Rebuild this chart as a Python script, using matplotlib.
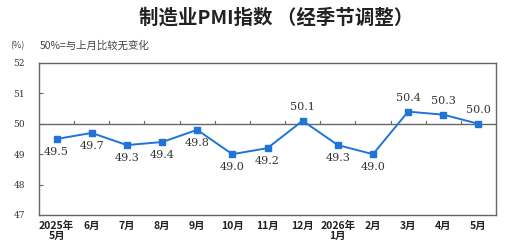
import matplotlib
matplotlib.use("Agg")
import matplotlib.pyplot as plt
import numpy as np

plt.rcParams['font.family'] = ['Noto Sans CJK SC', 'DejaVu Sans']

months = ["2025年\n5月", "6月", "7月", "8月", "9月", "10月", "11月", "12月",
          "2026年\n1月", "2月", "3月", "4月", "5月"]
pmi = [49.5, 49.7, 49.3, 49.4, 49.8, 49.0, 49.2, 50.1, 49.3, 49.0, 50.4, 50.3, 50.0]
label_above = [False, False, False, False, False, False, False, True, False, False, True, True, True]
yticks = [47, 48, 49, 50, 51, 52]

fig = plt.figure(figsize=(5.21, 2.48), dpi=100)
ax = fig.add_axes([39/521, 1-215/248, (496-39)/521, (215-63)/248])

x = np.arange(len(pmi))
blue = "#1f74d6"
ax.plot(x, pmi, color=blue, lw=1.4, marker='s', ms=4, mec=blue, mfc=blue, zorder=3)
ax.axhline(50, color="#666666", lw=1.0, zorder=2)

# small ticks on the 50 line between months
for b in x[:-1] + 0.5:
    ax.plot([b, b], [50, 50.1], color="#666666", lw=0.8, zorder=2)

for xi, v, up in zip(x, pmi, label_above):
    ax.annotate(f"{v:.1f}", (xi, v), xytext=(0, 10 if up else -9.5),
                textcoords='offset points', ha='center', va='center',
                fontsize=8, family='DejaVu Serif', color="#333333")

ax.set_xlim(-0.5, len(pmi) - 0.5)
ax.set_ylim(47, 52)
ax.set_yticks(yticks)
ax.set_yticklabels([str(t) for t in yticks], family='DejaVu Serif', fontsize=6.5, color="#333333")
ax.tick_params(axis='y', direction='in', length=3, width=0.8, color="#666666", pad=10)
ax.set_xticks(x)
ax.set_xticklabels(months, fontsize=7.5, fontweight='bold', color="#222222", linespacing=1.05)
ax.tick_params(axis='x', length=0, pad=4)
for s in ax.spines.values():
    s.set_color("#666666")
    s.set_linewidth(1.0)

fig.text(276/521, 1-18/248, "制造业PMI指数 （经季节调整）", ha='center', va='center',
         fontsize=14, fontweight='bold', color="#222222")
fig.text(10/521, 1-46/248, "(%)", ha='left', va='center', fontsize=6.5, color="#444444")
fig.text(40/521, 1-46/248, "50%=与上月比较无变化", ha='left', va='center', fontsize=7.5, color="#444444")

fig.savefig("out.png", dpi=100)
